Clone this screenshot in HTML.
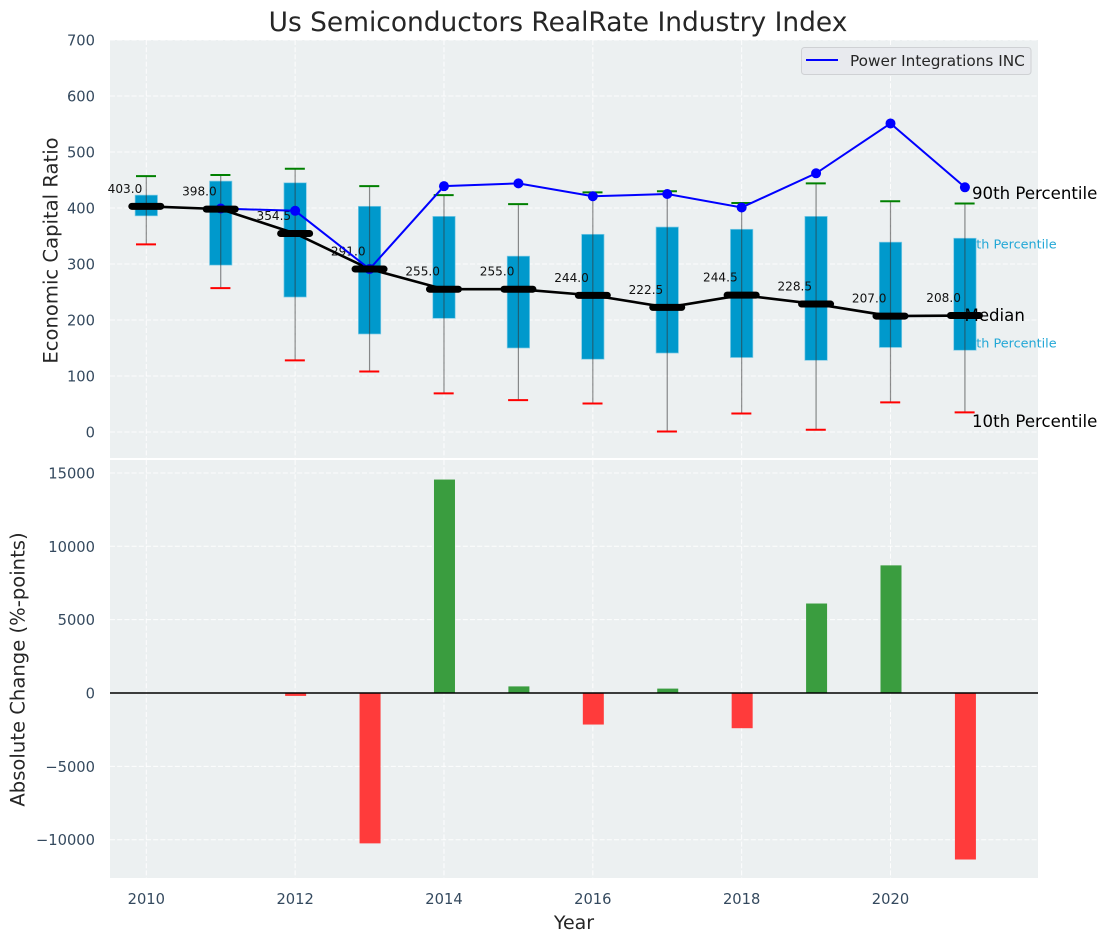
<!DOCTYPE html>
<html lang="en">
<head>
<meta charset="utf-8">
<title>Us Semiconductors RealRate Industry Index</title>
<style>
html,body{margin:0;padding:0;background:#fff;width:1107px;height:942px;overflow:hidden}
svg{display:block;font-family:"DejaVu Sans","Liberation Sans",sans-serif}
.tick{fill:#34495e;font-size:14.700px}
.axis-title{fill:#262626;font-size:19.600px}
.grid{stroke:#fff;stroke-width:1;stroke-dasharray:5 2.2;opacity:.9}
</style>
</head>
<body>
<svg id="chart" xmlns="http://www.w3.org/2000/svg" width="1107" height="942" viewBox="0 0 1107 942">
  <rect width="1107" height="942" fill="#fff"/>
  <rect x="110" y="40" width="928" height="418" fill="#ecf0f1"/>
  <rect x="110" y="460" width="928" height="418" fill="#ecf0f1"/>
  <g id="gridLayer"></g>
  <g id="pctLayer" font-size="12.800" fill="#22a7d6">
    <text x="960" y="248.500">75th Percentile</text>
    <text x="960" y="347.500">25th Percentile</text>
  </g>
  <g id="boxLayer"></g>
  <g id="labelLayer"></g>
  <g id="lineLayer"></g>
  <g id="medianLayer"></g>
  <g id="barLayer"></g>
  <line x1="110" x2="1038" y1="693" y2="693" stroke="#000" stroke-width="1.500"/>
  <g id="tickLayer"></g>

  <text x="558" y="31" text-anchor="middle" font-size="26.450" fill="#262626">Us Semiconductors RealRate Industry Index</text>
  <text transform="translate(57.500 250.500) rotate(-90)" text-anchor="middle" class="axis-title">Economic Capital Ratio</text>
  <text transform="translate(24.500 669.500) rotate(-90)" text-anchor="middle" class="axis-title">Absolute Change (%-points)</text>
  <text x="574" y="929" text-anchor="middle" class="axis-title" style="font-size:19px">Year</text>

  <text x="972" y="199" font-size="16.600" fill="#000">90th Percentile</text>
  <text x="964.500" y="321" font-size="16.600" fill="#000">Median</text>
  <text x="972" y="427" font-size="16.600" fill="#000">10th Percentile</text>

  <g>
    <rect x="801.500" y="47.500" width="229.500" height="27" rx="3" fill="#e8eaee" stroke="#cfd1d4"/>
    <line x1="806" x2="838" y1="60" y2="60" stroke="#0000ff" stroke-width="2"/>
    <text x="850" y="66" font-size="15.300" fill="#262626">Power Integrations INC</text>
  </g>
</svg>
<script>
const years = [2010, 2011, 2012, 2013, 2014, 2015, 2016, 2017, 2018, 2019, 2020, 2021];
const medians = [403, 398, 354.5, 291, 255, 255, 244, 222.5, 244.5, 228.5, 207, 208];
const p75 = [423, 448, 445, 403, 385, 314, 353, 366, 362, 385, 339, 346];
const p25 = [386, 298, 241, 175, 203, 150, 130, 141, 133, 128, 151, 146];
const p90 = [457, 459, 470, 439, 423, 407, 428, 430, 409, 444, 412, 408];
const p10 = [335, 257, 128, 108, 69, 57, 51, 1, 33, 4, 53, 35];
const companyYears = [2011, 2012, 2013, 2014, 2015, 2016, 2017, 2018, 2019, 2020, 2021];
const companyValues = [399, 395, 291, 439, 444, 421, 425, 401, 462, 551, 437];
const changeYears = [2012, 2013, 2014, 2015, 2016, 2017, 2018, 2019, 2020, 2021];
const changeValues = [-200, -10250, 14550, 450, -2150, 300, -2400, 6100, 8700, -11350];
const xTicks = [2010, 2012, 2014, 2016, 2018, 2020];
const topTicks = [0, 100, 200, 300, 400, 500, 600, 700];
const bottomTicks = [-10000, -5000, 0, 5000, 10000, 15000];

const NS = 'http://www.w3.org/2000/svg';
const xScale = function (year) { return 146.3 + (year - 2010) * 74.42; };
const yTop = function (v) { return 432 - v * 0.56; };
const yBottom = function (v) { return 693 - v * 0.01467; };
const halfWidth = 11.2;

function make(parent, tag, attrs, text) {
  const el = document.createElementNS(NS, tag);
  Object.keys(attrs).forEach(function (k) { el.setAttribute(k, attrs[k]); });
  if (text !== undefined) el.textContent = text;
  document.getElementById(parent).appendChild(el);
  return el;
}

xTicks.forEach(function (y) {
  const a = make('gridLayer', 'line', { x1: xScale(y), x2: xScale(y), y1: 40, y2: 458, class: 'grid' });
  
  
  const b = make('gridLayer', 'line', { x1: xScale(y), x2: xScale(y), y1: 460, y2: 878, class: 'grid' });
  
  
  const t = make('tickLayer', 'text', { x: xScale(y), y: 904, 'text-anchor': 'middle', class: 'tick' }, String(y));
  
  
});

topTicks.forEach(function (v) {
  const g = make('gridLayer', 'line', { x1: 110, x2: 1038, y1: yTop(v), y2: yTop(v), class: 'grid' });
  
  
  const t = make('tickLayer', 'text', { x: 95, y: yTop(v) + 5.5, 'text-anchor': 'end', class: 'tick' }, String(v));
  
  
});

bottomTicks.forEach(function (v) {
  const g = make('gridLayer', 'line', { x1: 110, x2: 1038, y1: yBottom(v), y2: yBottom(v), class: 'grid' });
  
  
  const label = v < 0 ? '\u2212' + Math.abs(v) : String(v);
  const t = make('tickLayer', 'text', { x: 95, y: yBottom(v) + 5.5, 'text-anchor': 'end', class: 'tick' }, label);
  
  
});

years.forEach(function (y, i) {
  const x = xScale(y);
  const box = make('boxLayer', 'rect', {
    x: x - halfWidth, width: halfWidth * 2,
    y: yTop(p75[i]), height: yTop(p25[i]) - yTop(p75[i]),
    fill: '#0099cc', stroke: '#7fcbe6', 'stroke-width': 0.7
  });
  
  
  const whisker = make('boxLayer', 'line', {
    x1: x, x2: x, y1: yTop(p90[i]), y2: yTop(p10[i]),
    stroke: '#333', 'stroke-width': 1.2, 'stroke-opacity': 0.55
  });
  
  
  const capHigh = make('boxLayer', 'line', {
    x1: x - 10.300, x2: x + 9.700, y1: yTop(p90[i]), y2: yTop(p90[i]),
    stroke: '#008000', 'stroke-width': 2
  });
  
  
  const capLow = make('boxLayer', 'line', {
    x1: x - 10.300, x2: x + 9.700, y1: yTop(p10[i]), y2: yTop(p10[i]),
    stroke: '#ff0000', 'stroke-width': 2
  });
  
  
  const lab = make('labelLayer', 'text', {
    x: x - 4, y: yTop(medians[i]) - 13.500, 'text-anchor': 'end', 'font-size': 12.1, fill: '#111'
  }, medians[i].toFixed(1));
  
  
  const dash = make('medianLayer', 'line', {
    x1: x - 14.500, x2: x + 14.500, y1: yTop(medians[i]), y2: yTop(medians[i]),
    stroke: '#000', 'stroke-width': 7, 'stroke-linecap': 'round'
  });
  
  
});

const medianPath = make('lineLayer', 'polyline', {
  points: years.map(function (y, i) { return xScale(y) + ',' + yTop(medians[i]); }).join(' '),
  fill: 'none', stroke: '#000', 'stroke-width': 2.6
});



const companyPath = make('lineLayer', 'polyline', {
  points: companyYears.map(function (y, i) { return xScale(y) + ',' + yTop(companyValues[i]); }).join(' '),
  fill: 'none', stroke: '#0000ff', 'stroke-width': 2
});



companyYears.forEach(function (y, i) {
  const dot = make('lineLayer', 'circle', { cx: xScale(y), cy: yTop(companyValues[i]), r: 5, fill: '#0000ff' });
  
  
});

changeYears.forEach(function (y, i) {
  const v = changeValues[i];
  const top = Math.min(yBottom(v), yBottom(0));
  const bar = make('barLayer', 'rect', {
    x: xScale(y) - 10, width: 21, y: top, height: Math.abs(yBottom(v) - yBottom(0)),
    fill: v >= 0 ? '#3a9d3f' : '#ff3b3b'
  });
  
  
});
</script>
</body>
</html>
